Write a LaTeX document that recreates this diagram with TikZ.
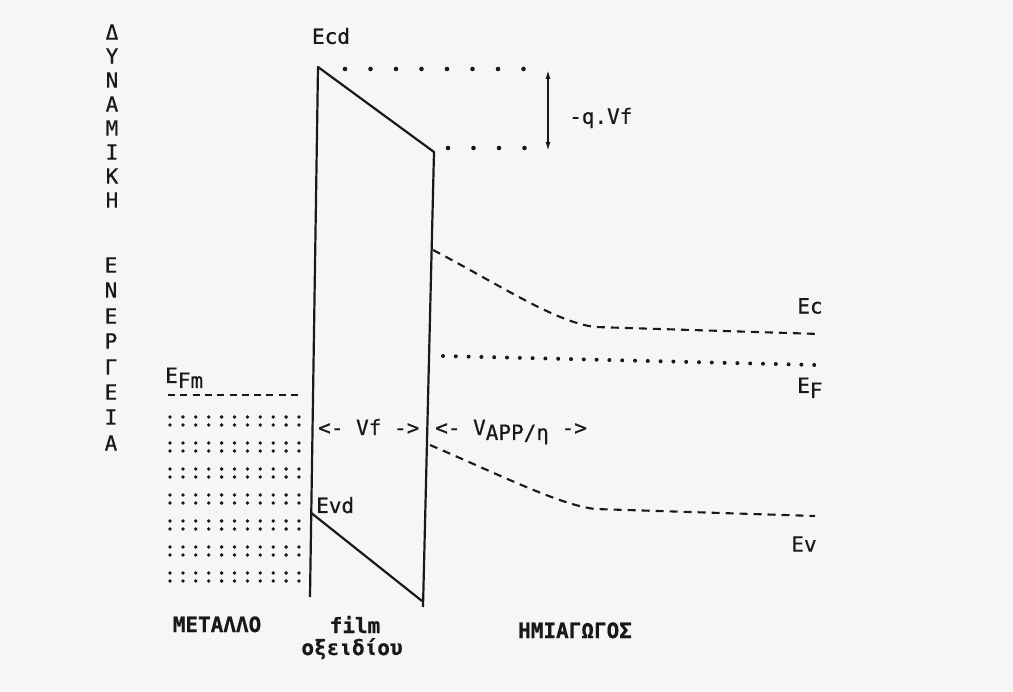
\documentclass[tikz,border=0pt]{standalone}
\usepackage{fontspec}
\setmainfont{DejaVu Sans Mono}[FakeBold=0.6]
\setmonofont{DejaVu Sans Mono}
\usetikzlibrary{arrows.meta}
\definecolor{paper}{RGB}{246,246,246}
\definecolor{ink}{RGB}{25,25,25}
\newcommand\lowr[1]{\raisebox{-5pt}{#1}}
\begin{document}
\begin{tikzpicture}[x=1pt,y=-1pt,
  lbl/.style={font=\fontsize{21}{24}\selectfont, inner sep=0pt, text=ink},
  bold lbl/.style={lbl, font=\fontsize{21}{24}\selectfont\bfseries},
  band/.style={line width=2.2pt, line join=round, draw=ink},
  dash line/.style={line width=2.1pt, draw=ink, dash pattern=on 8pt off 6pt},
  fm dash/.style={line width=1.8pt, draw=ink, dash pattern=on 7pt off 5.3pt},
  dot/.style={fill=ink},
]
\fill[paper] (0,0) rectangle (1013,692);
\useasboundingbox (0,0) rectangle (1013,692);

% vertical axis label
\foreach \l/\yy [count=\i] in {Δ/32,Υ/56,Ν/80,Α/104,Μ/128,Ι/152,Κ/176,Η/200}
  \node[lbl] (dyn\i) at (112,\yy) {\l};
\foreach \l/\yy [count=\i] in {Ε/265,Ν/290,Ε/316,Ρ/341,Γ/367,Ε/392,Ι/417,Α/443}
  \node[lbl] (ener\i) at (111,\yy) {\l};

% oxide band corners
\coordinate (ecdc) at (318,67);
\coordinate (topr) at (434,152);
\coordinate (botl) at (310,597);
\coordinate (botr) at (423,607);
\coordinate (evdc) at (311.3,513);
\coordinate (evdr) at (422,601);

\draw[band] (botl) -- (ecdc) -- (topr) -- (botr);
\draw[band] (evdc) -- (evdr);

% Ecd level dots and lower dots
\foreach \i in {0,...,7}
  \fill[dot] ({345+25.5*\i},69) circle (2.3);
\foreach \i in {0,...,3}
  \fill[dot] ({448+25.5*\i},148) circle (2.3);

% -q.Vf arrow
\coordinate (qtop) at (548,70);
\coordinate (qbot) at (548,151);
\draw[ink, line width=1.5pt, {Latex[length=9pt,width=5pt]}-{Latex[length=9pt,width=5pt]}] (qtop) -- (qbot);
\node[lbl, anchor=west] (qvf) at (569,118) {-q.Vf};

% semiconductor bands
\coordinate (ecs) at (433,250);
\coordinate (ecb) at (595,327);
\coordinate (ece) at (820,334);
\draw[dash line] (ecs) .. controls (500,285) and (555,322) .. (ecb) -- (ece);
\coordinate (evs) at (430,445);
\coordinate (evb) at (595,509);
\coordinate (eve) at (815,516);
\draw[dash line] (evs) .. controls (500,475) and (560,505) .. (evb) -- (eve);

% Fermi level of semiconductor
\foreach \i in {0,...,29}
  \fill[dot] ({443+12.8*\i},{356+0.31*\i}) circle (2.0);

% metal Fermi level and filled states
\coordinate (fms) at (168,395);
\coordinate (fme) at (303,395);
\draw[fm dash] (fms) -- (fme);
\foreach \c in {0,...,10}
  \foreach \r in {0,...,6} {
    \fill[dot] ({170+12.9*\c},{417+26*\r}) circle (1.9);
    \fill[dot] ({170+12.9*\c},{425+26*\r}) circle (1.9);
  }

% labels
\node[lbl] (ecd) at (331,36) {Ecd};
\node[lbl, anchor=base west] (evd) at (316,513) {Evd};
\node[lbl] (ec) at (810,306) {Ec};
\node[lbl, anchor=base west] (ef) at (797,393) {E\lowr{F}};
\node[lbl] (ev) at (804,544) {Ev};
\node[lbl, anchor=base west] (efm) at (165,383) {E\lowr{Fm}};
\node[lbl, anchor=base west] (vf) at (318,435) {<- Vf ->};
\node[lbl, anchor=base west] (vapp) at (435,435) {<- V\lowr{APP/η} ->};

\node[bold lbl, anchor=base] (metal) at (217,632) {ΜΕΤΑΛΛΟ};
\node[bold lbl, anchor=base] (film) at (355,633) {film};
\node[bold lbl, anchor=base] (oxide) at (352,655) {οξειδίου};
\node[bold lbl, anchor=base] (semi) at (575,638) {ΗΜΙΑΓΩΓΟΣ};
\end{tikzpicture}
\end{document}
